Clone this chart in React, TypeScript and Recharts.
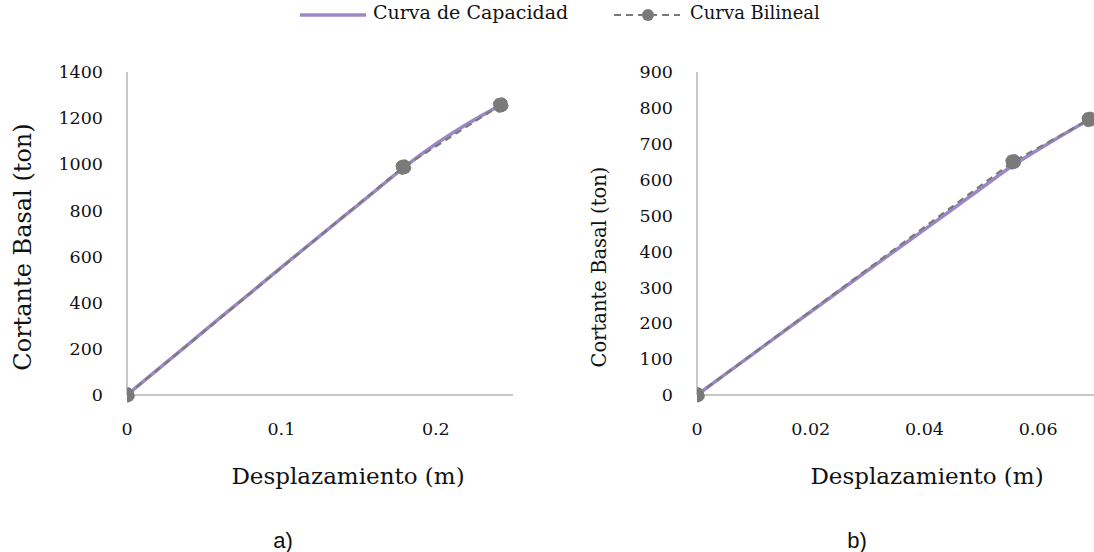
import { Line, LineChart, XAxis, YAxis } from 'recharts';

// a) — desplazamiento (m) vs cortante basal (ton)
const capDispA = [0, 0.02, 0.04, 0.06, 0.08, 0.1, 0.12, 0.14, 0.16, 0.18, 0.2, 0.215, 0.23, 0.242];
const capShearA = [0, 111, 222, 333, 443, 553, 663, 772, 880, 990, 1088, 1153, 1212, 1257];
const bilDispA = [0, 0.179, 0.242];
const bilShearA = [0, 988, 1257];
const xTicksA = [0, 0.1, 0.2];
const yTicksA = [0, 200, 400, 600, 800, 1000, 1200, 1400];

// b)
const capDispB = [0, 0.01, 0.02, 0.03, 0.04, 0.05, 0.0556, 0.062, 0.069];
const capShearB = [0, 116, 232, 347, 461, 576, 640, 703, 768];
const bilDispB = [0, 0.0556, 0.069];
const bilShearB = [0, 650, 768];
const xTicksB = [0, 0.02, 0.04, 0.06];
const yTicksB = [0, 100, 200, 300, 400, 500, 600, 700, 800, 900];

const PURPLE = '#9C88C8';
const GREY = '#7A7A7A';
const AXIS = '#C8C8C8';
const SERIF = '"DejaVu Serif", serif';

const toRows = (xs: number[], ys: number[]) => xs.map((x, i) => ({ x, y: ys[i] }));

const tickStyle = { fontSize: 17.5, fill: '#111', fontFamily: SERIF };

interface PanelProps {
  cap: { x: number; y: number }[];
  bil: { x: number; y: number }[];
  xDomain: [number, number];
  yDomain: [number, number];
  xTicks: number[];
  yTicks: number[];
  width: number;
  marginLeft: number;
  marginRight: number;
}

function Panel({ cap, bil, xDomain, yDomain, xTicks, yTicks, width, marginLeft, marginRight }: PanelProps) {
  return (
    <LineChart
      width={width}
      height={470}
      margin={{ top: 72, right: marginRight, left: marginLeft, bottom: 45 }}
    >
      <XAxis
        type="number"
        dataKey="x"
        domain={xDomain}
        ticks={xTicks}
        allowDataOverflow
        height={30}
        stroke={AXIS}
        strokeWidth={2}
        tickLine={false}
        tickMargin={22}
        tick={tickStyle}
      />
      <YAxis
        type="number"
        dataKey="y"
        domain={yDomain}
        ticks={yTicks}
        width={60}
        stroke={AXIS}
        strokeWidth={2}
        tickLine={false}
        tickMargin={18}
        tick={tickStyle}
      />
      <Line
        data={cap}
        dataKey="y"
        type="monotone"
        stroke={PURPLE}
        strokeWidth={3.5}
        dot={false}
        isAnimationActive={false}
      />
      <Line
        data={bil}
        dataKey="y"
        type="linear"
        stroke={GREY}
        strokeWidth={2.2}
        strokeDasharray="7 5"
        dot={{ r: 7.5, fill: GREY, stroke: GREY, strokeWidth: 1 }}
        isAnimationActive={false}
      />
    </LineChart>
  );
}

const abs = (left: number, top: number): React.CSSProperties => ({ position: 'absolute', left, top });

export default function App() {
  return (
    <div
      style={{
        position: 'absolute',
        left: 0,
        top: 0,
        width: 1094,
        height: 552,
        overflow: 'hidden',
        background: '#fff',
        fontFamily: SERIF,
        color: '#111',
      }}
    >
      {/* legend */}
      <svg style={abs(298, 4)} width={72} height={22}>
        <line x1={2} y1={11} x2={68} y2={11} stroke={PURPLE} strokeWidth={3.5} />
      </svg>
      <div style={{ ...abs(373, 1), fontSize: 19, whiteSpace: 'nowrap' }}>Curva de Capacidad</div>
      <svg style={abs(612, 4)} width={72} height={22}>
        <line x1={2} y1={11} x2={68} y2={11} stroke={GREY} strokeWidth={2} strokeDasharray="7 5" />
        <circle cx={36} cy={11} r={6} fill={GREY} />
      </svg>
      <div style={{ ...abs(690, 2), fontSize: 18, whiteSpace: 'nowrap' }}>Curva Bilineal</div>

      <div style={abs(0, 0)}>
        <Panel
          cap={toRows(capDispA, capShearA)}
          bil={toRows(bilDispA, bilShearA)}
          xDomain={[0, 0.25]}
          yDomain={[0, 1400]}
          xTicks={xTicksA}
          yTicks={yTicksA}
          width={530}
          marginLeft={67}
          marginRight={17}
        />
      </div>
      <div style={abs(560, 0)}>
        <Panel
          cap={toRows(capDispB, capShearB)}
          bil={toRows(bilDispB, bilShearB)}
          xDomain={[0, 0.07]}
          yDomain={[0, 900]}
          xTicks={xTicksB}
          yTicks={yTicksB}
          width={540}
          marginLeft={77}
          marginRight={5}
        />
      </div>

      {/* axis titles */}
      <div
        style={{
          ...abs(23, 247),
          fontSize: 24,
          whiteSpace: 'nowrap',
          transform: 'translate(-50%, -50%) rotate(-90deg)',
        }}
      >
        Cortante Basal (ton)
      </div>
      <div
        style={{
          ...abs(599, 267),
          fontSize: 19.5,
          whiteSpace: 'nowrap',
          transform: 'translate(-50%, -50%) rotate(-90deg)',
        }}
      >
        Cortante Basal (ton)
      </div>
      <div style={{ ...abs(348, 476), fontSize: 23, whiteSpace: 'nowrap', transform: 'translate(-50%, -50%)' }}>
        Desplazamiento (m)
      </div>
      <div style={{ ...abs(927, 476), fontSize: 23, whiteSpace: 'nowrap', transform: 'translate(-50%, -50%)' }}>
        Desplazamiento (m)
      </div>

      {/* panel captions */}
      <div
        style={{
          ...abs(283, 541),
          fontSize: 22,
          fontFamily: '"Liberation Sans", sans-serif',
          transform: 'translate(-50%, -50%)',
        }}
      >
        a)
      </div>
      <div
        style={{
          ...abs(857, 541),
          fontSize: 22,
          fontFamily: '"Liberation Sans", sans-serif',
          transform: 'translate(-50%, -50%)',
        }}
      >
        b)
      </div>
    </div>
  );
}
